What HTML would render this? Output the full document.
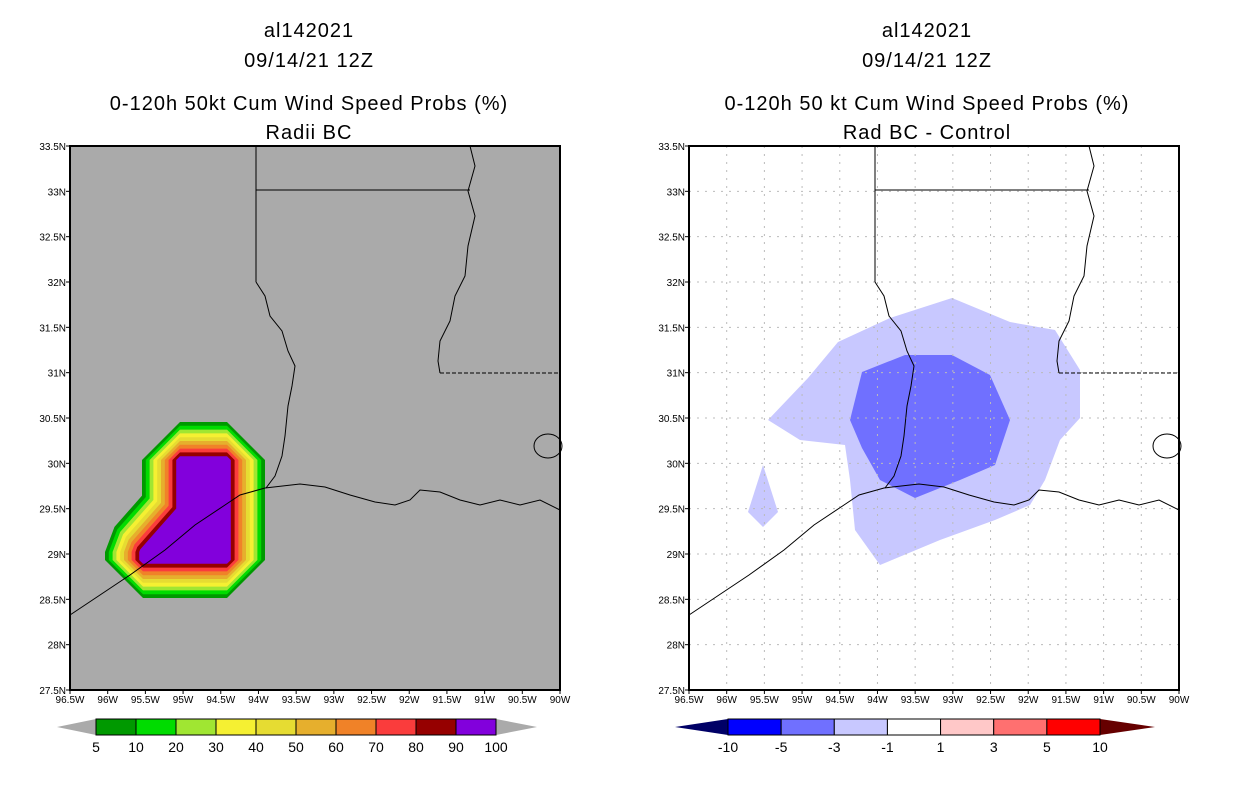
<!DOCTYPE html>
<html><head><meta charset="utf-8"><style>
body{margin:0;background:#fff;width:1236px;height:800px;overflow:hidden}
svg text{font-family:"Liberation Sans",sans-serif}
</style></head><body>
<svg id="s" width="1236" height="800" xmlns="http://www.w3.org/2000/svg">
<g id="t" font-size="20" text-anchor="middle" fill="#000" letter-spacing="1">
<text x="309" y="37">al142021</text>
<text x="309" y="67">09/14/21 12Z</text>
<text x="309" y="110">0-120h 50kt Cum Wind Speed Probs (%)</text>
<text x="309" y="139">Radii BC</text>
<text x="927" y="37">al142021</text>
<text x="927" y="67">09/14/21 12Z</text>
<text x="927" y="110">0-120h 50 kt Cum Wind Speed Probs (%)</text>
<text x="927" y="139">Rad BC - Control</text>
</g>
</svg>
<script>
const NS="http://www.w3.org/2000/svg";
const svg=document.getElementById('s');
const lonTicks=["96.5W","96W","95.5W","95W","94.5W","94W","93.5W","93W","92.5W","92W","91.5W","91W","90.5W","90W"];
const latTicks=["27.5N","28N","28.5N","29N","29.5N","30N","30.5N","31N","31.5N","32N","32.5N","33N","33.5N"];
const leftLevels=["5","10","20","30","40","50","60","70","80","90","100"];
const leftColors=["#009900","#00dc00","#a0e632","#f5f032","#e6dc32","#e6af2d","#f08228","#fa3c3c","#960000","#8200dc"];
const rightLevels=["-10","-5","-3","-1","1","3","5","10"];
const rightColors=["#0000ff","#7070ff","#c8c8ff","#ffffff","#ffc8c8","#ff7070","#ff0000"];
function el(tag,attrs,parent){const e=document.createElementNS(NS,tag);for(const k in attrs)e.setAttribute(k,attrs[k]);(parent||svg).appendChild(e);return e;}
const W=490,H=544,Y0=146;
function px(x0,lon){return x0+(lon+96.5)*W/6.5;} // lon negative-east offset
function py(lat){return Y0+H-(lat-27.5)*H/6;}
// coastline & borders in map-relative pixels
const coast=[[0,469],[30,449],[60,429],[95,404],[125,379],[155,359],[170,349],[195,342],[230,338],[255,341],[280,349],[305,356],[325,359],[340,354],[350,344],[370,346],[390,354],[410,359],[430,354],[450,359],[470,354],[490,364]];
const sabine=[[186,136],[195,150],[200,170],[212,185],[218,205],[225,220],[222,240],[218,260],[215,290],[212,310],[205,330],[196,342]];
const miss=[[400,0],[405,20],[398,45],[405,70],[398,100],[395,130],[385,150],[380,175],[370,195],[368,215],[370,227]];
function drawMap(x0,bg,grid,name){
  const g=el('g',{});
  
  
  el('rect',{x:x0,y:Y0,width:W,height:H,fill:bg},g);
  return g;
}
function overlay(x0,g,grid){
  if(grid){for(let i=1;i<13;i++){el('line',{x1:x0+i*W/13,y1:Y0,x2:x0+i*W/13,y2:Y0+H,stroke:'#bbb','stroke-dasharray':'2,6'},g);}
    for(let j=1;j<12;j++){el('line',{x1:x0,y1:Y0+j*H/12,x2:x0+W,y2:Y0+j*H/12,stroke:'#bbb','stroke-dasharray':'2,6'},g);}}
  const pl=a=>a.map(p=>(x0+p[0])+','+(Y0+p[1])).join(' ');
  const c=el('polyline',{points:pl(coast),fill:'none',stroke:'#000','stroke-width':1},g);
  
  el('polyline',{points:pl(sabine),fill:'none',stroke:'#000','stroke-width':1},g);
  el('polyline',{points:pl(miss),fill:'none',stroke:'#000','stroke-width':1},g);
  el('polyline',{points:pl([[186,0],[186,136]]),fill:'none',stroke:'#000'},g);
  el('polyline',{points:pl([[186,44],[400,44]]),fill:'none',stroke:'#000'},g);
  el('polyline',{points:pl([[370,227],[490,227]]),fill:'none',stroke:'#000','stroke-dasharray':'4,2'},g);
  el('ellipse',{cx:x0+478,cy:Y0+300,rx:14,ry:12,fill:'none',stroke:'#000'},g);
  el('rect',{x:x0,y:Y0,width:W,height:H,fill:'none',stroke:'#000','stroke-width':2},g);
  for(let i=0;i<lonTicks.length;i++){const x=x0+i*W/13;el('line',{x1:x,y1:Y0+H,x2:x,y2:Y0+H+4,stroke:'#000'},g);
    const t=el('text',{x:x,y:Y0+H+13,'font-size':10,'text-anchor':'middle'},g);t.textContent=lonTicks[i];
    }
  for(let j=0;j<latTicks.length;j++){const y=Y0+H-j*H/12;el('line',{x1:x0-4,y1:y,x2:x0,y2:y,stroke:'#000'},g);
    const t=el('text',{x:x0-4,y:y+4,'font-size':10,'text-anchor':'end'},g);t.textContent=latTicks[j];
    }
}
// left map
const gl=drawMap(70,'#aaaaaa',false,'left-map');
const purple="180,460 227,460 227,560 143,560 143,552 180,510";
for(let i=0;i<leftColors.length;i++){
  const w=2*(38-i*3.8);
  const p=el('polygon',{points:purple,fill:leftColors[i],stroke:leftColors[i],'stroke-width':Math.max(w,0),'stroke-linejoin':'bevel'},gl);
  
  
}
overlay(70,gl,false);
// right map
const gr=drawMap(689,'#ffffff',true,'right-map');
const light=el('polygon',{points:"768,420 808,378 838,342 890,318 952,298 1010,322 1055,330 1080,370 1080,418 1060,440 1045,480 1030,505 995,520 940,540 880,565 855,530 850,480 845,445 800,440",fill:'#c8c8ff'},gr);

el('polygon',{points:"748,512 763,465 778,512 763,527",fill:'#c8c8ff'},gr);
const dark=el('polygon',{points:"862,372 905,355 952,355 990,375 1010,420 995,465 960,480 915,498 880,480 862,448 850,420",fill:'#7070ff'},gr);

overlay(689,gr,true);
// colorbars
function colorbar(x0,x1,tipL,tipR,colors,levels,lc,rc,name){
  const g=el('g',{});
  const y0=719,y1=735,ym=727,bw=(x1-x0)/colors.length;
  el('polygon',{points:`${tipL},${ym} ${x0},${y0} ${x0},${y1}`,fill:lc},g);
  el('polygon',{points:`${tipR},${ym} ${x1},${y0} ${x1},${y1}`,fill:rc},g);
  for(let i=0;i<colors.length;i++){const r=el('rect',{x:x0+i*bw,y:y0,width:bw,height:y1-y0,fill:colors[i],stroke:'#000'},g);
    }
  for(let i=0;i<levels.length;i++){const t=el('text',{x:x0+i*bw,y:752,'font-size':14,'text-anchor':'middle'},g);t.textContent=levels[i];
    }
}
colorbar(96,496,57,537,leftColors,leftLevels,'#aaaaaa','#aaaaaa','left-colorbar');
colorbar(728,1100,675,1155,rightColors,rightLevels,'#000066','#660000','right-colorbar');
</script>
</body></html>
